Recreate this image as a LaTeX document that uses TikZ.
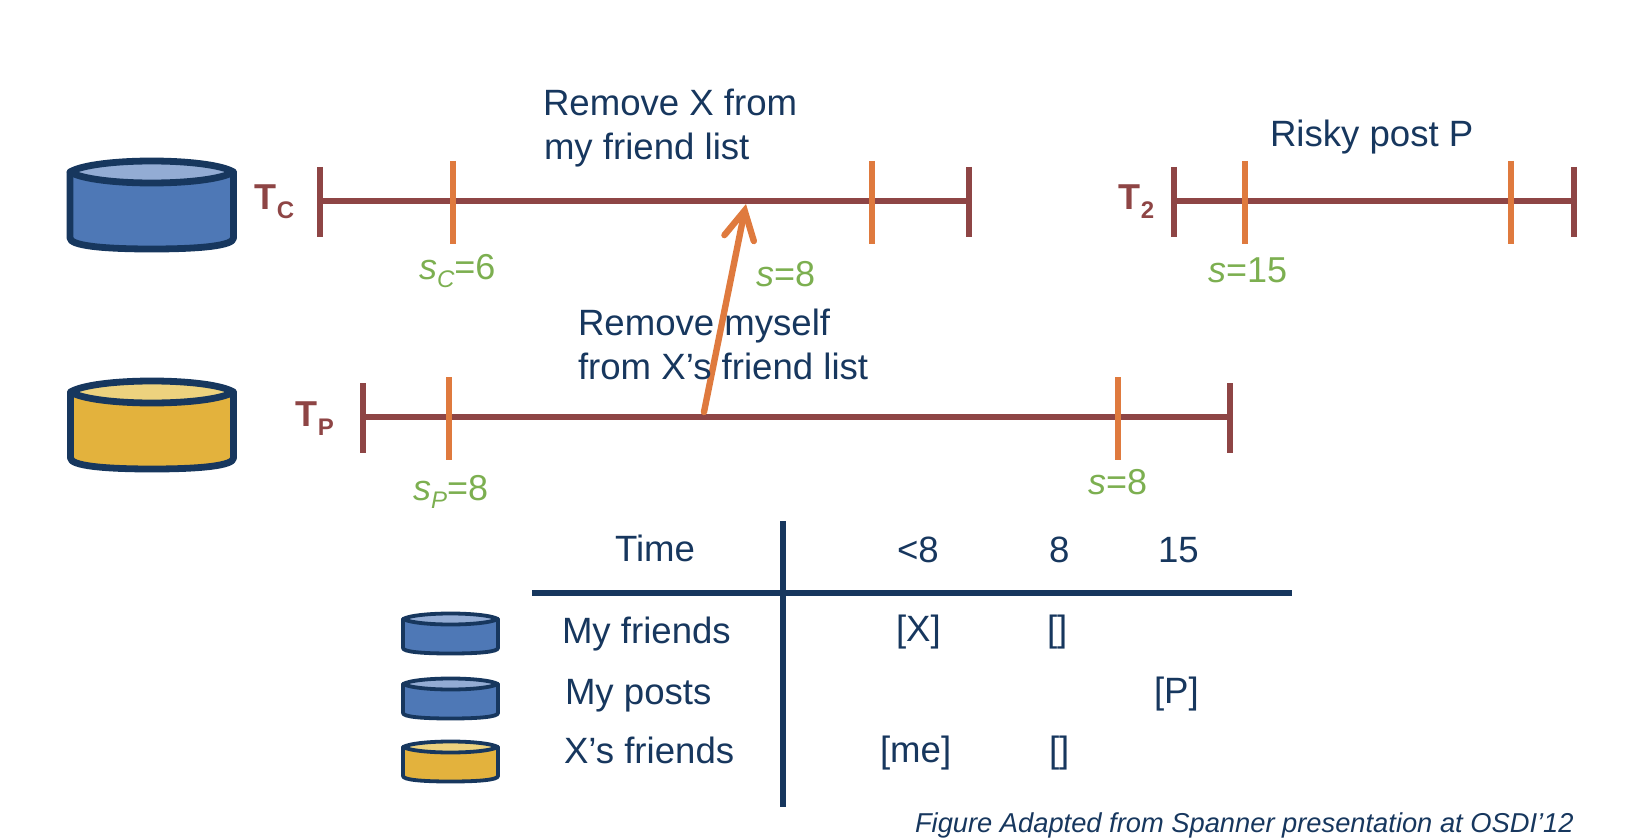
\documentclass[tikz,border=0pt]{standalone}
\usepackage{fontspec}
\setmainfont{Liberation Sans}
\usetikzlibrary{arrows.meta}
\definecolor{navy}{HTML}{17375E}
\definecolor{dbblue}{HTML}{4E78B6}
\definecolor{dbbluetop}{HTML}{93ACD4}
\definecolor{dbyellow}{HTML}{E3B23D}
\definecolor{dbyellowtop}{HTML}{EDD27E}
\definecolor{brownred}{HTML}{8E4545}
\definecolor{tickorange}{HTML}{DF7A3E}
\definecolor{stampgreen}{HTML}{7CAF50}
\tikzset{
  txt/.style={anchor=base west,inner sep=0pt,outer sep=0pt,text=navy,font=\fontsize{18.3}{22}\selectfont},
  glab/.style={txt,text=stampgreen,font=\fontsize{18}{22}\selectfont},
  tlab/.style={txt,text=brownred,font=\fontsize{18}{22}\selectfont\bfseries},
  credit/.style={txt,font=\fontsize{13.65}{17}\selectfont\itshape},
  timeline/.style={draw=brownred,line width=3.4pt},
  stamp/.style={draw=tickorange,line width=3.4pt},
  tablerule/.style={draw=navy,line width=3.4pt},
  influence/.style={draw=tickorange,line width=3.2pt,line cap=round,-{Straight Barb[length=14pt,width=15pt,line cap=round]}},
}
\newcommand{\drum}[8]{% x1 x2 ytop ry yside fill topfill lw
  \pgfmathsetmacro{\drumw}{#2-#1}
  \pgfmathsetmacro{\drumb}{#5+#4}
  \pgfmathsetmacro{\drumu}{#3-1.333*#4}
  \pgfmathsetmacro{\drumd}{#3+1.333*#4}
  \draw[draw=navy,fill=#6,line width=#8,line join=round]
    (#1,#3) -- (#1,#5)
    .. controls (#1,#5+0.7*#4) and (#1+0.2*\drumw,\drumb) .. (#1+0.5*\drumw,\drumb)
    .. controls (#2-0.2*\drumw,\drumb) and (#2,#5+0.7*#4) .. (#2,#5)
    -- (#2,#3) -- cycle;
  \draw[draw=navy,fill=#7,line width=#8,line join=round]
    (#1,#3) .. controls (#1+0.15*\drumw,\drumu) and (#2-0.15*\drumw,\drumu) .. (#2,#3)
    .. controls (#2-0.15*\drumw,\drumd) and (#1+0.15*\drumw,\drumd) .. cycle;
}
\newcommand{\subC}[1]{\raisebox{-4.4pt}{\fontsize{12}{12}\selectfont #1}}
\newcommand{\subT}[1]{\kern0.4pt\raisebox{-4.7pt}{\fontsize{12}{12}\selectfont #1}}
\begin{document}
\begin{tikzpicture}[x=0.5pt,y=-0.5pt]
\useasboundingbox (0,0) rectangle (1644,840);
% large drums
\drum{70}{233.5}{172}{11}{238}{dbblue}{dbbluetop}{3.4pt}
\drum{70.5}{233.5}{392}{11}{458}{dbyellow}{dbyellowtop}{3.4pt}
% small drums
\drum{403}{498}{619}{5.5}{648}{dbblue}{dbbluetop}{1.9pt}
\drum{403}{498}{684}{5.5}{713}{dbblue}{dbbluetop}{1.9pt}
\drum{403}{498}{747}{5.5}{776}{dbyellow}{dbyellowtop}{1.9pt}
% timeline C
\draw[timeline] (320,201) -- (969,201);
\draw[timeline] (320,167) -- (320,237);
\draw[timeline] (969,167) -- (969,237);
\draw[stamp] (453,161) -- (453,244);
\draw[stamp] (872,161) -- (872,244);
% timeline 2
\draw[timeline] (1174,201) -- (1574,201);
\draw[timeline] (1174,167) -- (1174,237);
\draw[timeline] (1574,167) -- (1574,237);
\draw[stamp] (1245,161) -- (1245,244);
\draw[stamp] (1511,161) -- (1511,244);
% timeline P
\draw[timeline] (363,417) -- (1230,417);
\draw[timeline] (363,383) -- (363,453);
\draw[timeline] (1230,383) -- (1230,453);
\draw[stamp] (449,377) -- (449,460);
\draw[stamp] (1118,377) -- (1118,460);
% arrow
\coordinate (arrowfrom) at (704,412);
\coordinate (arrowto) at (746,204);
\draw[influence] (arrowfrom) -- (arrowto);
% table
\draw[tablerule] (532,593) -- (1292,593);
\draw[tablerule] (783,521) -- (783,807);
% labels
\node[tlab] (tc) at (254,209) {T\subT{C}};
\node[tlab] (tp) at (295,426) {T\subT{P}};
\node[tlab] (t2) at (1118,209) {T\subT{2}};
\node[txt] (rx1) at (543,116) {Remove X from};
\node[txt] (rx2) at (544,160) {my friend list};
\node[txt] (rm1) at (578,335) {Remove myself};
\node[txt] (rm2) at (578,379) {from X’s friend list};
\node[txt] (risky) at (1270,147) {Risky post P};
\node[glab] (sc) at (419,279) {\textit{s}\subC{\itshape C}=6};
\node[glab] (s8a) at (756,286) {\textit{s}=8};
\node[glab] (s15) at (1208,282) {\textit{s}=15};
\node[glab] (sp) at (413,500) {\textit{s}\subC{\itshape P}=8};
\node[glab] (s8b) at (1088,494) {\textit{s}=8};
\node[txt] (time) at (615,561) {Time};
\node[txt] (lt8) at (897,562) {<8};
\node[txt] (h8) at (1049,562) {8};
\node[txt] (h15) at (1158,562) {15};
\node[txt] (myf) at (562,643) {My friends};
\node[txt] (myp) at (565,704) {My posts};
\node[txt] (xf) at (564,763) {X’s friends};
\node[txt] (cx) at (896,641) {[X]};
\node[txt] (ce1) at (1047,641) {[]};
\node[txt] (cp) at (1154,703) {[P]};
\node[txt] (cme) at (880,762) {[me]};
\node[txt] (ce2) at (1049,762) {[]};
\node[credit] (fig) at (915,832) {Figure Adapted from Spanner presentation at OSDI’12};
\end{tikzpicture}
\end{document}
